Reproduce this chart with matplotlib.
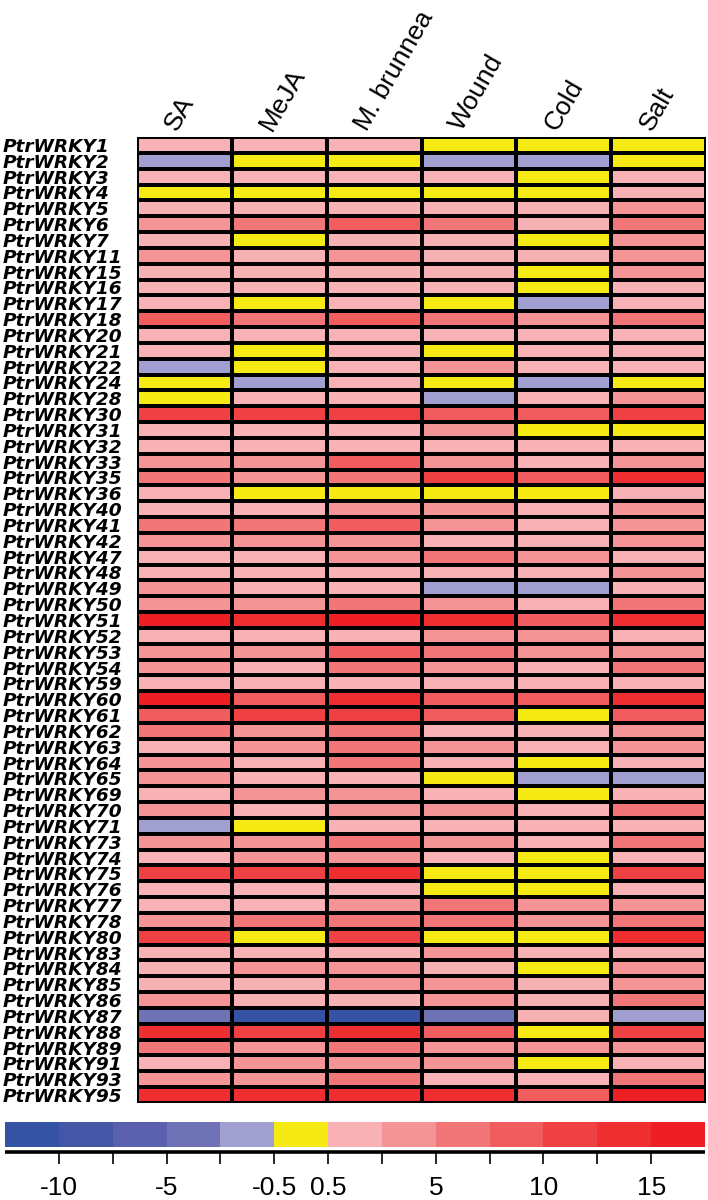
import numpy as np
import matplotlib
matplotlib.use("Agg")
import matplotlib.pyplot as plt
from matplotlib.colors import ListedColormap, BoundaryNorm

genes = ["PtrWRKY%d" % n for n in
         [1, 2, 3, 4, 5, 6, 7, 11, 15, 16, 17, 18, 20, 21, 22, 24, 28, 30, 31, 32,
          33, 35, 36, 40, 41, 42, 47, 48, 49, 50, 51, 52, 53, 54, 59, 60, 61, 62, 63, 64,
          65, 69, 70, 71, 73, 74, 75, 76, 77, 78, 80, 83, 84, 85, 86, 87, 88, 89, 91, 93, 95]]
treatments = ["SA", "MeJA", "M. brunnea", "Wound", "Cold", "Salt"]

# fold change (one value per colour class)
SA = [1.5, -1.5, 1.5, 0, 1.5, 4, 1.5, 4, 1.5, 1.5,
      1.5, 9, 1.5, 1.5, -1.5, 0, 0, 11, 1.5, 1.5,
      4, 6, 1.5, 1.5, 6, 4, 1.5, 1.5, 4, 4,
      16, 1.5, 4, 4, 1.5, 16, 9, 6, 1.5, 4,
      4, 1.5, 4, -1.5, 4, 1.5, 11, 1.5, 1.5, 4,
      11, 1.5, 1.5, 1.5, 4, -4, 14, 6, 1.5, 4,
      14]
MeJA = [1.5, 0, 1.5, 0, 1.5, 6, 0, 1.5, 1.5, 1.5,
        0, 6, 1.5, 0, 0, -1.5, 1.5, 11, 1.5, 1.5,
        4, 4, 0, 1.5, 6, 4, 1.5, 1.5, 1.5, 4,
        14, 1.5, 4, 1.5, 1.5, 9, 11, 4, 4, 1.5,
        1.5, 4, 1.5, 0, 4, 4, 11, 1.5, 1.5, 6,
        0, 1.5, 4, 1.5, 1.5, -11, 11, 4, 4, 4,
        14]
Mbrunnea = [1.5, 0, 1.5, 0, 1.5, 9, 1.5, 4, 1.5, 1.5,
            1.5, 9, 1.5, 1.5, 1.5, 1.5, 1.5, 11, 1.5, 1.5,
            9, 6, 0, 4, 9, 4, 4, 1.5, 1.5, 6,
            16, 1.5, 9, 6, 1.5, 14, 11, 6, 6, 6,
            1.5, 4, 4, 1.5, 6, 4, 14, 1.5, 4, 6,
            11, 1.5, 4, 4, 1.5, -11, 14, 6, 4, 6,
            14]
Wound = [0, -1.5, 1.5, 0, 1.5, 6, 1.5, 1.5, 1.5, 1.5,
         0, 6, 1.5, 0, 4, 0, -1.5, 9, 4, 1.5,
         4, 11, 0, 4, 4, 1.5, 6, 1.5, -1.5, 4,
         14, 4, 6, 4, 1.5, 9, 9, 1.5, 4, 1.5,
         0, 1.5, 4, 1.5, 4, 1.5, 0, 0, 6, 6,
         0, 4, 1.5, 4, 4, -4, 9, 4, 4, 1.5,
         14]
Cold = [0, -1.5, 0, 0, 1.5, 1.5, 0, 1.5, 0, 0,
        -1.5, 4, 1.5, 1.5, 1.5, -1.5, 1.5, 9, 0, 1.5,
        1.5, 9, 0, 1.5, 1.5, 1.5, 4, 1.5, -1.5, 1.5,
        9, 4, 4, 1.5, 1.5, 9, 0, 1.5, 1.5, 0,
        -1.5, 0, 1.5, 1.5, 1.5, 0, 0, 0, 4, 4,
        0, 1.5, 0, 1.5, 1.5, 1.5, 0, 4, 0, 1.5,
        9]
Salt = [0, 0, 1.5, 1.5, 4, 6, 4, 4, 4, 1.5,
        1.5, 6, 1.5, 1.5, 1.5, 0, 4, 11, 0, 1.5,
        4, 14, 1.5, 4, 4, 4, 1.5, 4, 1.5, 6,
        14, 1.5, 4, 6, 1.5, 14, 9, 4, 4, 1.5,
        -1.5, 1.5, 6, 1.5, 6, 1.5, 11, 1.5, 4, 6,
        14, 1.5, 4, 4, 6, -1.5, 11, 4, 1.5, 6,
        16]

bounds = [-12.5, -10, -7.5, -5, -2.5, -0.5, 0.5, 2.5, 5, 7.5, 10, 12.5, 15, 17.5]
tick_vals = [-10, -5, -0.5, 0.5, 5, 10, 15]
tick_text = ["-10", "-5", "-0.5", "0.5", "5", "10", "15"]
colors = ["#3553a4", "#4357a6", "#5a60ad", "#7072b6", "#a19fd0", "#f5ea14",
          "#f8b2b5", "#f49496", "#f27677", "#f15c5e", "#ef4144", "#ee2e30", "#ed1f24"]

cmap = ListedColormap(colors)
norm = BoundaryNorm(bounds, cmap.N)
data = np.array([SA, MeJA, Mbrunnea, Wound, Cold, Salt]).T

fig = plt.figure(figsize=(7.08, 12), dpi=100)
W, H = 708, 1200
ax = fig.add_axes([137 / W, 1 - 1103 / H, (706 - 137) / W, (1103 - 137) / H])
mesh = ax.pcolormesh(data, cmap=cmap, norm=norm, edgecolors="black", linewidth=1.6)
for x in range(data.shape[1] + 1):
    ax.axvline(x, color="black", lw=2.6)
ax.set_xlim(0, data.shape[1])
ax.set_ylim(data.shape[0], 0)
for s in ax.spines.values():
    s.set_visible(False)

# gene names, left aligned at the figure edge
ax.set_yticks(np.arange(len(genes)) + 0.5)
ax.set_yticklabels(genes, fontfamily="DejaVu Sans", fontweight="bold",
                   fontstyle="italic", fontsize=13.3)
ax.tick_params(axis="y", length=0, pad=(137 - 3) * 0.72)
for lbl in ax.get_yticklabels():
    lbl.set_horizontalalignment("left")

# treatment labels
ax.set_xticks([])
for i, t in enumerate(treatments):
    ax.text(i + 0.36, -0.55, t, rotation=60, rotation_mode="anchor",
            ha="left", va="center", fontsize=19, fontfamily="Liberation Sans")

# colour key
cax = fig.add_axes([5 / W, 1 - 1147 / H, 700 / W, 25 / H])
cb = fig.colorbar(mesh, cax=cax, orientation="horizontal", spacing="uniform")
cb.outline.set_visible(False)
cb.minorticks_off()
cb.set_ticks(tick_vals)
cb.set_ticklabels(tick_text)
cax.tick_params(length=0, pad=21, labelsize=19)
for lbl in cax.get_xticklabels():
    lbl.set_fontfamily("Liberation Sans")
tr = cax.get_xaxis_transform()
cax.plot([0, 1], [-0.2, -0.2], transform=cax.transAxes, color="black",
         lw=2.6, clip_on=False, solid_capstyle="butt")
cax.vlines(bounds[1:-1], -0.2, -0.68, transform=tr, color="black",
           lw=1.2, clip_on=False)

fig.savefig("out.png", dpi=100)
